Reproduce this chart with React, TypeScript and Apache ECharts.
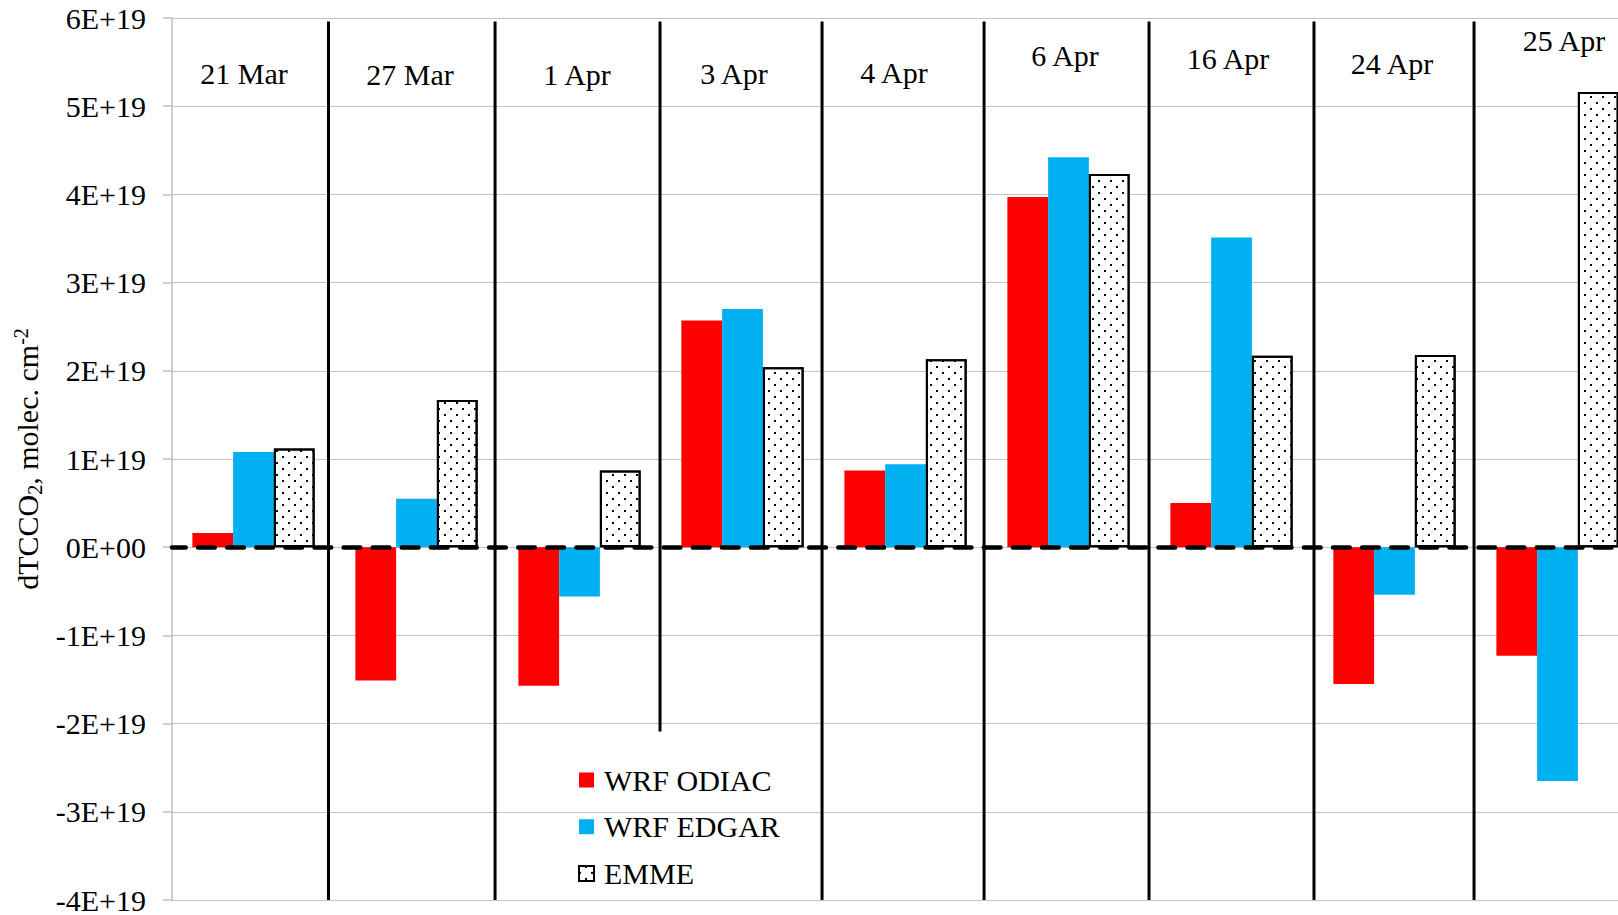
import React, { useEffect, useRef } from "react";
import * as echarts from "echarts";

// Values are in units of 1E+19 molec. cm-2
const categories = ["21 Mar", "27 Mar", "1 Apr", "3 Apr", "4 Apr", "6 Apr", "16 Apr", "24 Apr", "25 Apr"];
const wrfOdiac = [0.16, -1.51, -1.57, 2.57, 0.87, 3.97, 0.5, -1.55, -1.23];
const wrfEdgar = [1.08, 0.55, -0.56, 2.7, 0.94, 4.42, 3.51, -0.54, -2.65];
const emme = [1.12, 1.67, 0.87, 2.04, 2.13, 4.23, 2.17, 2.18, 5.16];
const seriesNames = ["WRF ODIAC", "WRF EDGAR", "EMME"];
const yTicks = { min: -4, max: 6, interval: 1 };

// Annotation layout (in axis units): date labels inside the plot, and divider lines
const labelX = [0.442, 1.46, 2.485, 3.448, 4.429, 5.479, 6.479, 7.485, 8.54];
const labelY = [5.375, 5.357, 5.357, 5.37, 5.386, 5.578, 5.537, 5.48, 5.744];
const dividerX = [0.96, 1.982, 2.994, 3.988, 4.982, 5.994, 7.006, 7.988];
const dividerTop = [5.96, 5.96, 5.96, 5.96, 5.96, 5.96, 5.96, 5.96];
const dividerBottom = [-4, -4, -2.09, -4, -4, -4, -4, -4];

const FONT = '"Liberation Serif", "Times New Roman", serif';

export default function App() {
  const ref = useRef<HTMLDivElement>(null);
  useEffect(() => {
    if (!ref.current) return;
    const chart = echarts.init(ref.current, undefined, { renderer: "svg" });
    const dividerData = dividerX.map((x, i) => [x, dividerTop[i], dividerBottom[i]]);
    const labelData = labelX.map((x, i) => [x, labelY[i], i]);
    chart.setOption({
      animation: false,
      textStyle: { fontFamily: FONT },
      grid: { left: 172, top: 18, width: 1467, height: 886, containLabel: false },
      legend: {
        data: seriesNames,
        orient: "vertical",
        left: 578,
        top: 765,
        padding: 0,
        itemWidth: 15,
        itemHeight: 15,
        itemGap: 16.7,
        icon: "rect",
        textStyle: { fontFamily: FONT, fontSize: 30, color: "#000", lineHeight: 30, padding: [0, 0, 0, 5] },
      },
      xAxis: [
        {
          type: "category",
          data: categories,
          z: 10,
          axisLine: {
            onZero: true,
            lineStyle: { color: "#000", width: 4.5, type: [16.7, 12.4], dashOffset: 2.7 },
          },
          axisTick: { show: false },
          axisLabel: { show: false },
          splitLine: { show: false },
        },
        { type: "value", min: 0, max: 9, show: false },
      ],
      yAxis: {
        type: "value",
        min: yTicks.min,
        max: yTicks.max,
        interval: yTicks.interval,
        name: "{a|dTCCO}{sub|2}{a|, molec. cm}{sup|-2}",
        nameLocation: "middle",
        nameRotate: 90,
        nameGap: 124,
        nameTextStyle: {
          fontFamily: FONT,
          fontSize: 30,
          color: "#000",
          rich: {
            a: { fontFamily: FONT, fontSize: 30, color: "#000", lineHeight: 34 },
            sub: { fontFamily: FONT, fontSize: 20, color: "#000", verticalAlign: "bottom", lineHeight: 34 },
            sup: { fontFamily: FONT, fontSize: 20, color: "#000", verticalAlign: "top", lineHeight: 34 },
          },
        },
        axisLine: { show: true, lineStyle: { color: "#bfbfbf", width: 1.5 } },
        axisTick: { show: true, length: 9, lineStyle: { color: "#bfbfbf", width: 1.5 } },
        axisLabel: {
          margin: 26,
          fontFamily: FONT,
          fontSize: 30,
          color: "#000",
          formatter: (v: number) => (v === 0 ? "0E+00" : `${Math.round(v)}E+19`),
        },
        splitLine: { show: true, lineStyle: { color: "#c4c4c4", width: 1.2 } },
      },
      series: [
        {
          name: seriesNames[0],
          type: "bar",
          data: wrfOdiac,
          barGap: 0,
          barCategoryGap: "25%",
          itemStyle: { color: "#ff0000" },
        },
        {
          name: seriesNames[1],
          type: "bar",
          data: wrfEdgar,
          barGap: 0,
          barCategoryGap: "25%",
          itemStyle: { color: "#00b0f0" },
        },
        {
          name: seriesNames[2],
          type: "bar",
          data: emme,
          barGap: 0,
          barCategoryGap: "25%",
          itemStyle: {
            color: "#ffffff",
            borderColor: "#000",
            borderWidth: 2,
            decal: {
              symbol: "rect",
              symbolSize: 1,
              color: "#000",
              backgroundColor: "#ffffff",
              dashArrayX: [
                [1.3, 9.2],
                [0, 5.25, 1.3, 3.95],
              ],
              dashArrayY: [1.3, 4],
            },
          },
        },
        {
          name: "dividers",
          type: "custom",
          xAxisIndex: 1,
          yAxisIndex: 0,
          silent: true,
          z: 5,
          data: dividerData,
          renderItem: (_p: any, api: any) => {
            const a = api.coord([api.value(0), api.value(1)]);
            const b = api.coord([api.value(0), api.value(2)]);
            return {
              type: "line",
              shape: { x1: a[0], y1: a[1], x2: b[0], y2: b[1] },
              style: { stroke: "#000", lineWidth: 3 },
            };
          },
        },
        {
          name: "dateLabels",
          type: "custom",
          xAxisIndex: 1,
          yAxisIndex: 0,
          silent: true,
          z: 6,
          data: labelData,
          renderItem: (_p: any, api: any) => {
            const p = api.coord([api.value(0), api.value(1)]);
            return {
              type: "text",
              style: {
                text: categories[api.value(2)],
                x: p[0],
                y: p[1],
                fill: "#000",
                fontSize: 30,
                fontFamily: FONT,
                align: "center",
                verticalAlign: "middle",
              },
            };
          },
        },
      ],
    });
    return () => chart.dispose();
  }, []);
  return (
    <div
      style={{ position: "absolute", left: 0, top: 0, width: 1618, height: 915, overflow: "hidden", background: "#fff" }}
    >
      <div ref={ref} style={{ position: "absolute", left: 0, top: 0, width: 1645, height: 915 }} />
    </div>
  );
}
